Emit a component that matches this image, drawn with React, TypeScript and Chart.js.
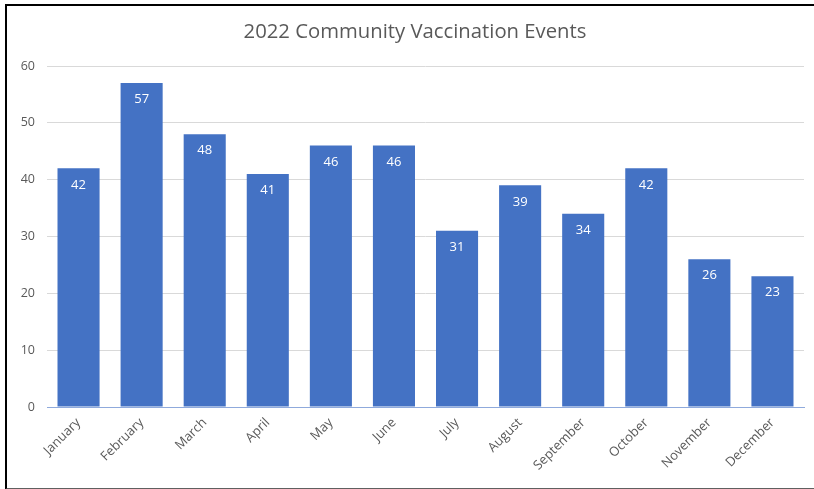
import React, { useEffect, useRef } from "react";
import { Chart, registerables } from "chart.js";

Chart.register(...registerables);

const months = [
  "January", "February", "March", "April", "May", "June",
  "July", "August", "September", "October", "November", "December",
];
const events = [42, 57, 48, 41, 46, 46, 31, 39, 34, 42, 26, 23];
const yTicks = [0, 10, 20, 30, 40, 50, 60];
const chartTitle = "2022 Community Vaccination Events";

const FONT = "'Open Sans', 'Noto Sans', sans-serif";
const TEXT_GRAY = "#595959";
const BAR_BLUE = "#4472C4";

// Title drawn centered above the plot area.
const titlePlugin = {
  id: "topTitle",
  afterDraw(chart: Chart) {
    const { ctx } = chart;
    ctx.save();
    ctx.fillStyle = TEXT_GRAY;
    ctx.font = `20.3px ${FONT}`;
    ctx.textAlign = "center";
    ctx.textBaseline = "middle";
    ctx.fillText(chartTitle, 415, 32);
    ctx.restore();
  },
};

// White value labels inside the top of each bar.
const valueLabels = {
  id: "valueLabels",
  afterDatasetsDraw(chart: Chart) {
    const { ctx } = chart;
    const meta = chart.getDatasetMeta(0);
    ctx.save();
    ctx.fillStyle = "#ffffff";
    ctx.font = `13px ${FONT}`;
    ctx.textAlign = "center";
    ctx.textBaseline = "middle";
    meta.data.forEach((el: any, i: number) => {
      ctx.fillText(String(events[i]), el.x, el.y + 16.5);
    });
    ctx.restore();
  },
};

export default function App() {
  const canvasRef = useRef<HTMLCanvasElement>(null);

  useEffect(() => {
    document.body.style.margin = "0";
    const chart = new Chart(canvasRef.current!, {
      type: "bar",
      data: {
        labels: months,
        datasets: [
          {
            data: events,
            backgroundColor: BAR_BLUE,
            borderWidth: 0,
            barPercentage: 0.667,
            categoryPercentage: 1,
          },
        ],
      },
      options: {
        animation: false,
        responsive: false,
        maintainAspectRatio: false,
        layout: { padding: { left: 10, right: 10, top: 66, bottom: 0 } },
        plugins: {
          legend: { display: false },
          title: { display: false },
          tooltip: { enabled: false },
        },
        scales: {
          x: {
            grid: { display: false, drawTicks: false },
            border: { display: true, color: "#8FAADC", width: 1 },
            ticks: {
              color: TEXT_GRAY,
              font: { family: FONT, size: 13 },
              maxRotation: 45,
              minRotation: 45,
              padding: 8,
            },
            afterFit: (s: any) => {
              s.height = 82;
            },
          },
          y: {
            min: 0,
            max: 60,
            afterBuildTicks: (s: any) => {
              s.ticks = yTicks.map((v) => ({ value: v }));
            },
            grid: { color: "#D9D9D9", drawTicks: false },
            border: { display: false },
            ticks: {
              color: TEXT_GRAY,
              font: { family: FONT, size: 12.5 },
              padding: 12,
            },
            afterFit: (s: any) => {
              s.width = 37;
            },
          },
        },
      },
      plugins: [titlePlugin, valueLabels],
    });
    return () => chart.destroy();
  }, []);

  return (
    <div style={{ position: "relative", width: 814, height: 489, overflow: "hidden", background: "#fff" }}>
      <canvas ref={canvasRef} width={814} height={489} style={{ position: "absolute", left: 0, top: 0 }} />
      <div
        style={{
          position: "absolute",
          left: 5,
          top: 4,
          width: 830,
          height: 482,
          borderLeft: "2px solid #000",
          borderTop: "2px solid #000",
          borderBottom: "2px solid #606060",
          pointerEvents: "none",
        }}
      />
    </div>
  );
}
